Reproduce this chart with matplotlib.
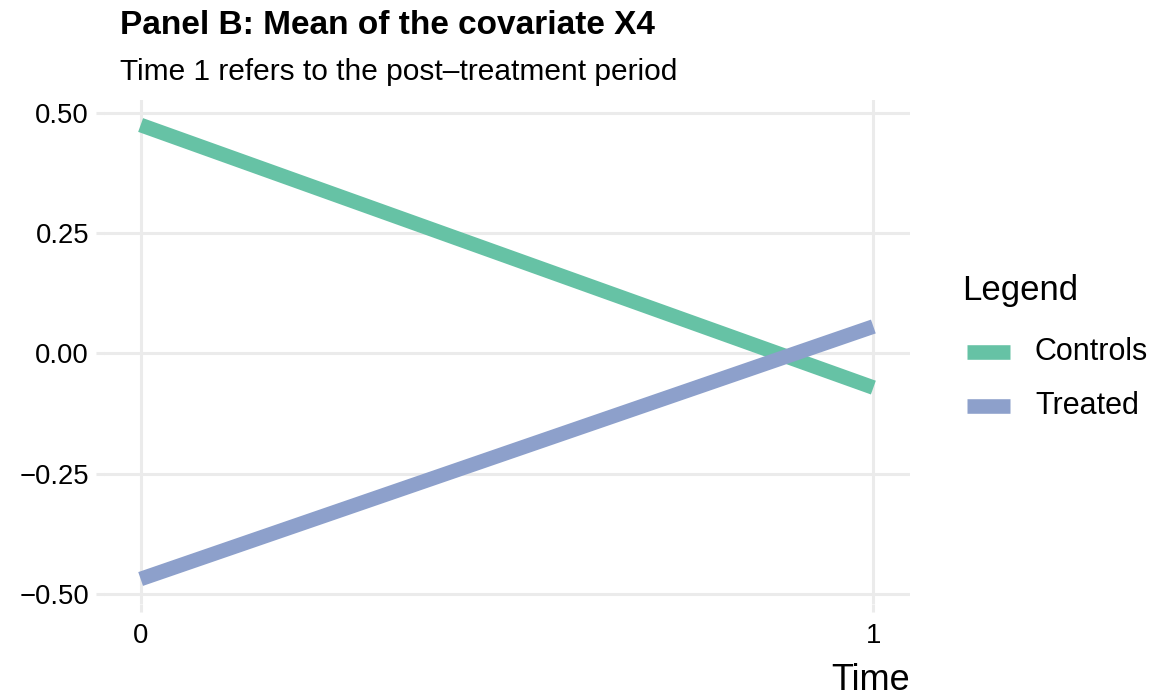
import matplotlib
matplotlib.use("Agg")
from matplotlib import pyplot as plt
from matplotlib.lines import Line2D

plt.rcParams['font.family'] = ['Liberation Sans', 'DejaVu Sans']

# data
time = [0, 1]
controls = [0.475, -0.071]
treated = [-0.469, 0.056]
series_names = ['Controls', 'Treated']
series_colors = ['#66C2A5', '#8DA0CB']
yticks = [-0.50, -0.25, 0.00, 0.25, 0.50]
ytick_labels = ['\u22120.50', '\u22120.25', '0.00', '0.25', '0.50']
xticks = [0, 1]

grid_col = '#EBEBEB'
W, H = 1155, 696

fig = plt.figure(figsize=(W / 100, H / 100), dpi=100)
ax = fig.add_axes([104 / W, 1 - 604 / H, (910 - 104) / W, (604 - 100) / H])

for vals, col in zip([controls, treated], series_colors):
    ax.plot(time, vals, color=col, lw=10.5, solid_capstyle='butt', zorder=3)

ax.set_xlim(-0.05, 1.05)
ax.set_ylim(-0.521, 0.527)
ax.set_xticks(xticks)
ax.set_xticklabels([str(t) for t in xticks])
ax.set_yticks(yticks)
ax.set_yticklabels(ytick_labels)
ax.grid(True, color=grid_col, lw=2.2)
ax.set_axisbelow(True)
for s in ax.spines.values():
    s.set_visible(False)
ax.tick_params(axis='both', color=grid_col, width=2.2, length=5.8,
               labelsize=19.8, labelcolor='black')
ax.tick_params(axis='x', pad=7.6)
ax.tick_params(axis='y', pad=5)

fig.text(910 / W, 1 - 680 / H, 'Time', fontsize=26, ha='right', va='center')

fig.text(120 / W, 1 - 25 / H, 'Panel B: Mean of the covariate X4',
         fontsize=24, fontweight='bold', va='center', ha='left')
fig.text(120 / W, 1 - 72 / H, 'Time 1 refers to the post\u2013treatment period',
         fontsize=21.5, va='center', ha='left')

# legend drawn by hand to match the ggplot guide
fig.text(962 / W, 1 - 290 / H, 'Legend', fontsize=25, ha='left', va='center')
key_y = [352, 406]
for name, col, ky in zip(series_names, series_colors, key_y):
    fig.add_artist(Line2D([967 / W, 1010 / W], [1 - ky / H, 1 - ky / H],
                          color=col, lw=10.5, solid_capstyle='butt',
                          transform=fig.transFigure))
    fig.text(1035 / W, 1 - ky / H, name, fontsize=22, ha='left', va='center')

fig.savefig('out.png', dpi=100)
